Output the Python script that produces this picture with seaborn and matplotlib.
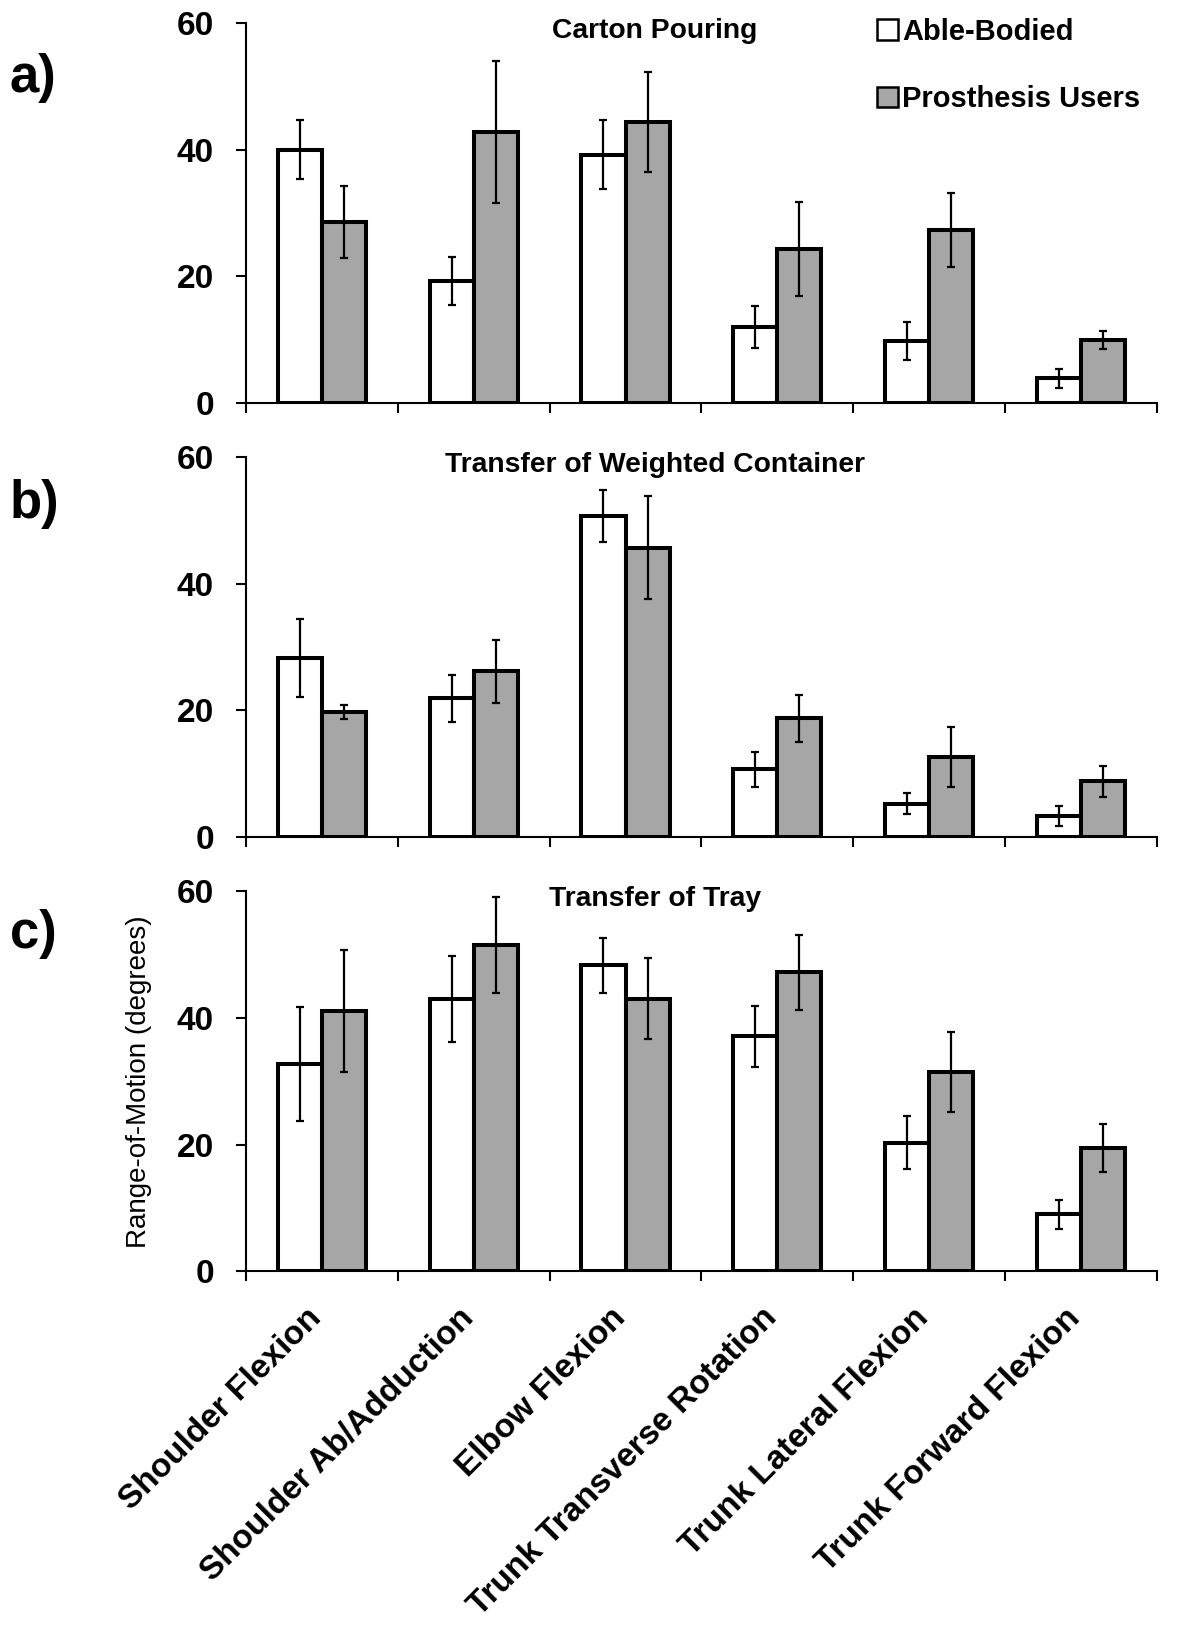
import matplotlib
matplotlib.use("Agg")
import matplotlib.pyplot as plt
from matplotlib.patches import Patch
from matplotlib.transforms import ScaledTranslation
import numpy as np
import pandas as pd
import seaborn as sns

motions = ["Shoulder Flexion", "Shoulder Ab/Adduction", "Elbow Flexion",
           "Trunk Transverse Rotation", "Trunk Lateral Flexion", "Trunk Forward Flexion"]
groups = ["Able-Bodied", "Prosthesis Users"]
tasks = ["Carton Pouring", "Transfer of Weighted Container", "Transfer of Tray"]
tags = ["a)", "b)", "c)"]

# range of motion in degrees, mean and error
carton_ab = [40.0, 19.2, 39.2, 12.0, 9.8, 3.9]
carton_pu = [28.6, 42.8, 44.3, 24.3, 27.3, 9.9]
carton_ab_err = [4.6, 3.8, 5.5, 3.3, 3.0, 1.5]
carton_pu_err = [5.7, 11.2, 7.9, 7.4, 5.9, 1.4]

weighted_ab = [28.3, 21.9, 50.7, 10.7, 5.3, 3.3]
weighted_pu = [19.8, 26.2, 45.7, 18.8, 12.7, 8.8]
weighted_ab_err = [6.2, 3.7, 4.1, 2.8, 1.7, 1.6]
weighted_pu_err = [1.1, 5.0, 8.1, 3.7, 4.7, 2.5]

tray_ab = [32.8, 43.0, 48.3, 37.1, 20.3, 9.0]
tray_pu = [41.1, 51.5, 43.0, 47.2, 31.5, 19.5]
tray_ab_err = [9.0, 6.8, 4.3, 4.8, 4.2, 2.3]
tray_pu_err = [9.6, 7.6, 6.4, 5.9, 6.3, 3.8]

means = [(carton_ab, carton_pu), (weighted_ab, weighted_pu), (tray_ab, tray_pu)]
errs = [(carton_ab_err, carton_pu_err), (weighted_ab_err, weighted_pu_err),
        (tray_ab_err, tray_pu_err)]

colors = {"Able-Bodied": "white", "Prosthesis Users": "#a6a6a6"}

sns.set_style("ticks", {"axes.edgecolor": "black", "text.color": "black",
                        "axes.labelcolor": "black", "xtick.color": "black",
                        "ytick.color": "black"})
plt.rcParams["font.family"] = ["Liberation Sans", "DejaVu Sans"]

fig, axes = plt.subplots(3, 1, figsize=(12, 16.3), dpi=100)
fig.subplots_adjust(left=0.205, right=0.964, top=0.986, bottom=0.220, hspace=0.142)

for i, ax in enumerate(axes):
    df = pd.DataFrame({
        "motion": motions * 2,
        "group": [groups[0]] * 6 + [groups[1]] * 6,
        "rom": means[i][0] + means[i][1],
    })
    sns.barplot(data=df, x="motion", y="rom", hue="group", order=motions,
                hue_order=groups, palette=colors, saturation=1, width=0.58,
                edgecolor="black", linewidth=2.9, errorbar=None, legend=False, ax=ax)

    for cont, e in zip(ax.containers, errs[i]):
        xs = [b.get_x() + b.get_width() / 2 for b in cont]
        ys = [b.get_height() for b in cont]
        ax.errorbar(xs, ys, yerr=e, fmt="none", ecolor="black",
                    elinewidth=1.6, capsize=3, capthick=1.6, zorder=5)

    ax.set_xlim(-0.5, 5.5)
    ax.set_ylim(0, 60)
    ax.set_yticks([0, 20, 40, 60])
    sns.despine(ax=ax)
    for s in ["left", "bottom"]:
        ax.spines[s].set_linewidth(1.5)
    ax.tick_params(axis="y", length=7, width=1.5, pad=16, labelsize=24)
    for t in ax.get_yticklabels():
        t.set_fontweight("bold")
    ax.set_xticks(np.arange(-0.5, 6), minor=True)
    ax.tick_params(axis="x", which="major", length=0)
    ax.tick_params(axis="x", which="minor", length=7, width=1.5)
    ax.set_xlabel("")
    ax.set_ylabel("")

    ax.text(0.449, 0.979, tasks[i], transform=ax.transAxes, ha="center",
            va="center", fontsize=20.3, fontweight="bold")

    if i < 2:
        ax.tick_params(axis="x", labelbottom=False)
    else:
        ax.set_xticks(range(len(motions)))
        ax.set_xticklabels(motions, rotation=45, ha="right", va="center",
                           rotation_mode="anchor", fontsize=24, fontweight="bold")
        ax.tick_params(axis="x", which="major", pad=30)
        shift = ScaledTranslation(-0.05, 0, fig.dpi_scale_trans)
        for t in ax.get_xticklabels():
            t.set_transform(t.get_transform() + shift)
        ax.set_ylabel("Range-of-Motion (degrees)", fontsize=20, labelpad=18)

fig_y = [0.952, 0.691, 0.427]
for tag, y in zip(tags, fig_y):
    fig.text(0.008, y, tag, ha="left", va="center", fontsize=38, fontweight="bold")

handles = [Patch(facecolor=colors[g], edgecolor="black", linewidth=1.8, label=g)
           for g in groups]
axes[0].legend(handles=handles, loc="upper left", bbox_to_anchor=(0.693, 1.013),
               frameon=False, prop={"size": 21, "weight": "bold"}, handlelength=0.7,
               handleheight=0.7, handletextpad=0.15, labelspacing=1.35,
               borderpad=0, borderaxespad=0)

fig.savefig("out.png", dpi=100)
